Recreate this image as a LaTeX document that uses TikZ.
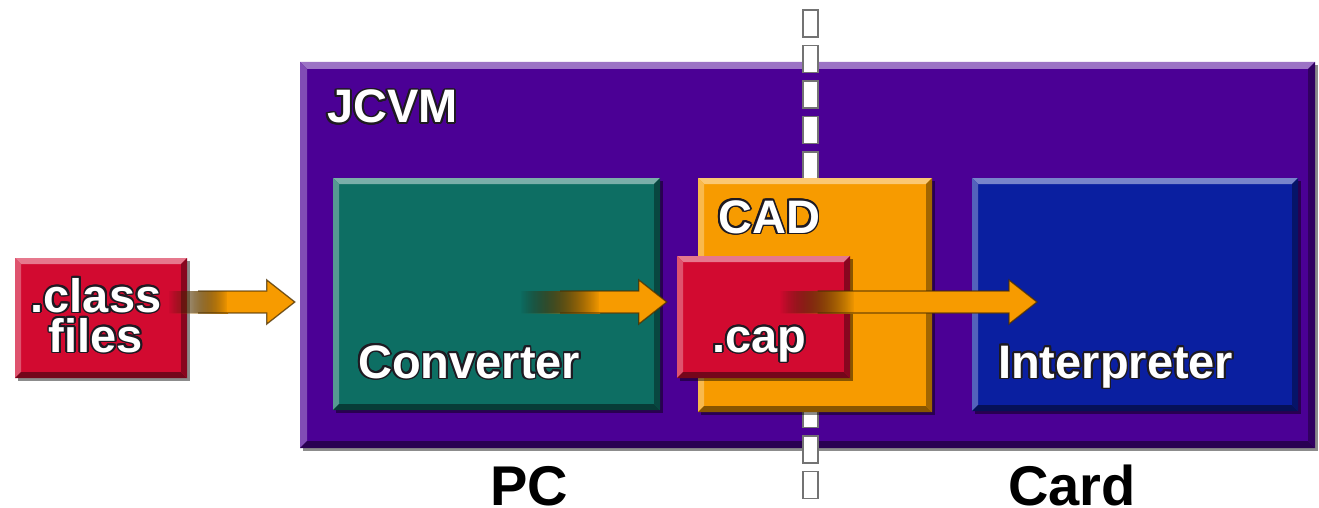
\documentclass[tikz,border=0pt]{standalone}
\usepackage{fontspec}
\setmainfont{Liberation Sans}
\usepackage{contour}
\contourlength{1.8pt}
\usetikzlibrary{shadows,fadings,calc}
\definecolor{jpurple}{HTML}{4B0095}
\definecolor{jteal}{HTML}{0D6E63}
\definecolor{jorange}{HTML}{F79B00}
\definecolor{jred}{HTML}{D20A30}
\definecolor{jblue}{HTML}{0A1FA0}
\definecolor{halo}{HTML}{1E1A22}
\tikzfading[name=tailfade, left color=transparent!100, middle color=transparent!0, right color=transparent!0]
\newcommand\hl[1]{\contour{halo}{#1}}
\tikzset{
  bevelbox/.style 2 args={fill=#1, draw=none, inner sep=0pt, anchor=center,
    drop shadow={shadow xshift=3pt, shadow yshift=-3pt, opacity=.45, fill=black},
    path picture={
      \fill[#1!55!white] (path picture bounding box.north west) -- (path picture bounding box.north east)
        -- ([shift={(-#2,-#2)}]path picture bounding box.north east) -- ([shift={(#2,-#2)}]path picture bounding box.north west) -- cycle;
      \fill[#1!70!white] (path picture bounding box.north west) -- ([shift={(#2,-#2)}]path picture bounding box.north west)
        -- ([shift={(#2,#2)}]path picture bounding box.south west) -- (path picture bounding box.south west) -- cycle;
      \fill[#1!55!black] (path picture bounding box.south west) -- (path picture bounding box.south east)
        -- ([shift={(-#2,#2)}]path picture bounding box.south east) -- ([shift={(#2,#2)}]path picture bounding box.south west) -- cycle;
      \fill[#1!65!black] (path picture bounding box.north east) -- (path picture bounding box.south east)
        -- ([shift={(-#2,#2)}]path picture bounding box.south east) -- ([shift={(-#2,-#2)}]path picture bounding box.north east) -- cycle;
    }},
  lbl/.style={inner sep=0pt, text=white, font=\fontsize{47}{40}\selectfont\bfseries},
  biglbl/.style={inner sep=0pt, text=black, font=\fontsize{56}{56}\selectfont\bfseries},
  dashbox/.style={fill=white, draw=black!55, line width=1.4pt},
  arrowedge/.style={draw=jorange!30!black, draw opacity=.75, line width=1.3pt, line join=miter}
}
\newcommand\orarrow[3]{%
  \fill[left color=jorange!30!black, right color=jorange, path fading=tailfade] let \p1=(#1) in (\x1,\y1-11pt) rectangle (\x1+#3pt,\y1+11pt);
  \fill[jorange] let \p1=(#1), \p2=(#2) in
    (\x1+#3pt-1pt,\y1-11pt) -- (\x2-28pt,\y1-11pt) -- (\x2-28pt,\y1-22pt) -- (\x2,\y1)
    -- (\x2-28pt,\y1+22pt) -- (\x2-28pt,\y1+11pt) -- (\x1+#3pt-1pt,\y1+11pt) -- cycle;
  \draw[arrowedge] let \p1=(#1), \p2=(#2) in
    (\x1+0.5*#3pt,\y1-11pt) -- (\x2-28pt,\y1-11pt) -- (\x2-28pt,\y1-22pt) -- (\x2,\y1)
    -- (\x2-28pt,\y1+22pt) -- (\x2-28pt,\y1+11pt) -- (\x1+0.5*#3pt,\y1+11pt);
}
\begin{document}
\begin{tikzpicture}[x=1pt,y=-1pt]
\useasboundingbox (0,0) rectangle (1319,508);
% JCVM frame
\node[bevelbox={jpurple}{7pt}, minimum width=1015pt, minimum height=386pt] (jcvm) at (807.5,255) {};
% PC / Card boundary
\foreach \i in {0,...,13}{
  \pgfmathsetmacro\ys{10+35.5*\i}
  \draw[dashbox] (803,\ys) rectangle (818,\ys+27);
}
% inner boxes
\node[bevelbox={jteal}{6pt}, minimum width=327pt, minimum height=232pt] (conv) at (496.5,294) {};
\node[bevelbox={jorange}{6pt}, minimum width=234pt, minimum height=234pt] (cad) at (815,295) {};
\node[bevelbox={jblue}{6pt}, minimum width=326pt, minimum height=233pt] (interp) at (1135,294.5) {};
\node[bevelbox={jred}{6pt}, minimum width=173pt, minimum height=122pt] (cap) at (763.5,317) {};
\node[bevelbox={jred}{6pt}, minimum width=172pt, minimum height=120pt] (class) at (101,318) {};
% arrows
\coordinate (a1s) at (168,302);
\coordinate (a1t) at ([xshift=-5pt]jcvm.west |- a1s);
\orarrow{a1s}{a1t}{60}
\coordinate (a2s) at (520,302);
\coordinate (a2t) at ([xshift=-10pt]cap.west |- a2s);
\orarrow{a2s}{a2t}{80}
\coordinate (a3s) at (780,302);
\coordinate (a3t) at (1037,302);
\orarrow{a3s}{a3t}{75}
% labels
\node[lbl, anchor=base west] (jcvmlbl) at (327,123) {\hl{JCVM}};
\node[lbl, anchor=base west] (convlbl) at (358,378) {\hl{Converter}};
\node[lbl, anchor=base west] (cadlbl) at (718,233) {\hl{CAD}};
\node[lbl, anchor=base west] (caplbl) at (712,352) {\hl{.cap}};
\node[lbl, anchor=base west] (interplbl) at (998,378) {\hl{Interpreter}};
\node[lbl, anchor=base, align=center] (classlbl) at (96,352) {\hl{.class}\\\hl{files}};
\node[biglbl, anchor=base west] (pc) at (490,505) {PC};
\node[biglbl, anchor=base west] (card) at (1008,505) {Card};
\end{tikzpicture}
\end{document}
